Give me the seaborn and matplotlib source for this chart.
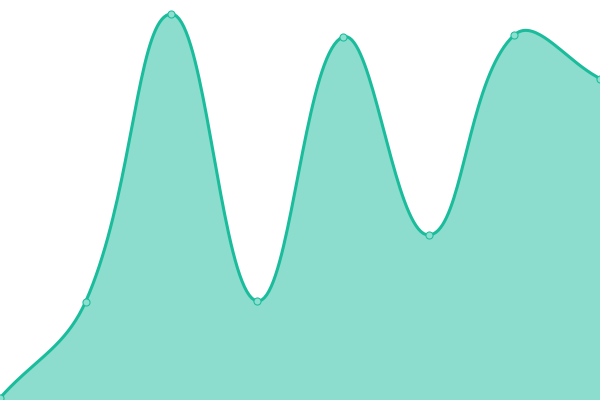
import numpy as np
import matplotlib
matplotlib.use('Agg')
import matplotlib.pyplot as plt
import seaborn as sns

# values (canvas height = 400)
labels = ['A', 'B', 'C', 'D', 'E', 'F', 'G', 'H']
values = [2, 98.5, 386, 99, 363, 165, 365, 321.5]

LINE = '#1abc9c'
FILL = (26 / 255, 188 / 255, 156 / 255, 0.5)
DOT = '#8de0d0'
W, H = 600, 400


def spline_path(px, py, t=0.4, n=40):
    # chart.js style bezier smoothing, worked out in pixel space
    pts = np.column_stack([px, py]).astype(float)
    k = len(pts)
    cp_prev, cp_next = [], []
    for i in range(k):
        cur = pts[i]
        prev = pts[i - 1] if i > 0 else cur
        nxt = pts[i + 1] if i < k - 1 else cur
        d01 = np.hypot(*(cur - prev))
        d12 = np.hypot(*(nxt - cur))
        tot = d01 + d12
        s01 = d01 / tot if tot else 0
        s12 = d12 / tot if tot else 0
        a = cur - t * s01 * (nxt - prev)
        b = cur + t * s12 * (nxt - prev)
        a = np.clip(a, [0, 0], [W, H])
        b = np.clip(b, [0, 0], [W, H])
        cp_prev.append(a)
        cp_next.append(b)
    out = []
    u = np.linspace(0, 1, n)[:, None]
    for i in range(k - 1):
        p0, p1, p2, p3 = pts[i], cp_next[i], cp_prev[i + 1], pts[i + 1]
        seg = ((1 - u) ** 3) * p0 + 3 * ((1 - u) ** 2) * u * p1 + 3 * (1 - u) * u ** 2 * p2 + u ** 3 * p3
        out.append(seg if i == 0 else seg[1:])
    out = np.vstack(out)
    return out[:, 0], out[:, 1]


sns.set_style('white')
fig = plt.figure(figsize=(6, 4), dpi=100)
ax = fig.add_axes([0, 0, 1, 1])

x = np.arange(len(labels))
xmax = len(labels) - 1
sx, sy = spline_path(x * W / xmax, np.array(values, dtype=float))
cx = sx * xmax / W

ax.fill_between(cx, 0, sy, color=FILL, linewidth=0)
sns.lineplot(x=cx, y=sy, sort=False, color=LINE, linewidth=2.2, ax=ax)
sns.scatterplot(x=x, y=values, s=26, color=DOT, edgecolor=LINE, linewidth=0.75, ax=ax, zorder=5)

ax.set_xlim(0, xmax)
ax.set_ylim(0, H)
ax.axis('off')

fig.savefig('out.png', dpi=100)
